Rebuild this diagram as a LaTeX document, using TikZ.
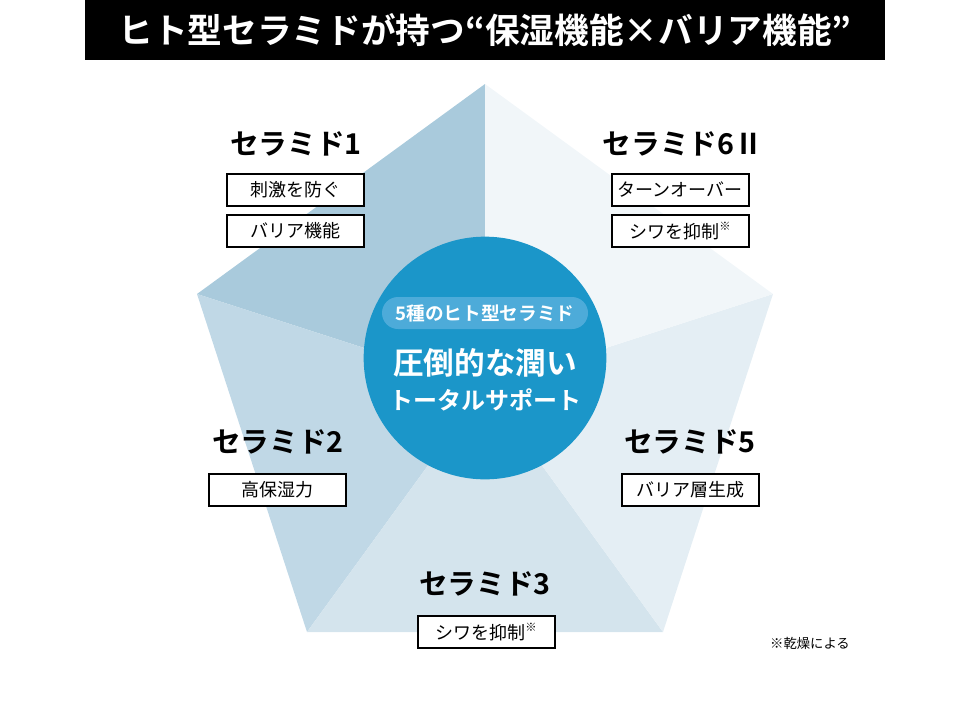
\documentclass[tikz,border=0pt]{standalone}
\usepackage{fontspec}
\setmainfont{Noto Sans CJK JP}[BoldFont={Noto Sans CJK JP Bold}]
\usetikzlibrary{positioning}
\definecolor{segA}{HTML}{A9CADC}
\definecolor{segB}{HTML}{C0D8E6}
\definecolor{segC}{HTML}{D4E4ED}
\definecolor{segD}{HTML}{E4EEF4}
\definecolor{segE}{HTML}{F1F6F9}
\definecolor{discblue}{HTML}{1B96C9}
\definecolor{pillblue}{HTML}{4DABD9}
\tikzset{
    titlebar/.style = {rectangle,
                    fill=black,
                    text=white,
                    minimum width=600pt,
                    minimum height=45pt,
                    inner sep=0pt,
                    font=\fontsize{26pt}{26pt}\selectfont\bfseries},
    heading/.style = {inner sep=0pt,
                    text=black,
                    font=\fontsize{21.5pt}{21.5pt}\selectfont\bfseries},
    effect/.style = {rectangle,
                    fill=white,
                    draw=black,
                    text=black,
                    line width=1.5pt,
                    minimum width=102.75pt,
                    minimum height=24pt,
                    inner sep=0pt,
                    font=\fontsize{13.5pt}{13.5pt}\selectfont},
    disc/.style =   {circle,
                    fill=discblue,
                    minimum size=182pt,
                    inner sep=0pt},
    pill/.style =   {rectangle,
                    rounded corners=12pt,
                    fill=pillblue,
                    text=white,
                    minimum width=154.5pt,
                    minimum height=24pt,
                    inner sep=0pt,
                    font=\fontsize{14pt}{14pt}\selectfont\bfseries},
    lead/.style =   {text=white,
                    inner sep=0pt,
                    font=\fontsize{23pt}{23pt}\selectfont\bfseries},
    leadsub/.style = {text=white,
                    inner sep=0pt,
                    font=\fontsize{18pt}{18pt}\selectfont\bfseries},
    note/.style =   {inner sep=0pt,
                    text=black,
                    font=\fontsize{10pt}{10pt}\selectfont},
    node distance=5.25pt}
\newcommand{\kome}{\raisebox{0.45em}{\fontsize{8.5pt}{8.5pt}\selectfont ※}}

\begin{document}
\begin{tikzpicture}[x=0.75pt,y=-0.75pt]
    \useasboundingbox (0,0) rectangle (970,700);
    % pentagon
    \coordinate (O) at (485,387);
    \coordinate (P1) at (485,84);
    \coordinate (P2) at (197,294);
    \coordinate (P3) at (307,632);
    \coordinate (P4) at (663,632);
    \coordinate (P5) at (773,294);
    \fill[segA] (O) -- (P1) -- (P2) -- cycle;
    \fill[segB] (O) -- (P2) -- (P3) -- cycle;
    \fill[segC] (O) -- (P3) -- (P4) -- cycle;
    \fill[segD] (O) -- (P4) -- (P5) -- cycle;
    \fill[segE] (O) -- (P5) -- (P1) -- cycle;
    % title
    \node[titlebar]     (T) at (485,30)     {ヒト型セラミドが持つ“保湿機能×バリア機能”};
    % centre
    \node[disc]         (C) at (485,358)    {};
    \node[pill]         (S) at (485,313)    {5種のヒト型セラミド};
    \node[lead]         (L1) at (485,363)   {圧倒的な潤い};
    \node[leadsub]      (L2) at (485,400)   {トータルサポート};
    % ceramides
    \node[heading]      (H1) at (296,144)   {セラミド1};
    \node[effect]       (E1a) at (295.5,190) {刺激を防ぐ};
    \node[effect]       (E1b) [below=of E1a] {バリア機能};
    \node[heading]      (H6) at (683,144)   {セラミド6Ⅱ};
    \node[effect]       (E6a) at (680,190)  {ターンオーバー};
    \node[effect]       (E6b) [below=of E6a] {シワを抑制\kome};
    \node[heading]      (H2) at (278,442)   {セラミド2};
    \node[effect]       (E2) at (277.5,490) {高保湿力};
    \node[heading]      (H5) at (690,442)   {セラミド5};
    \node[effect]       (E5) at (690,490)   {バリア層生成};
    \node[heading]      (H3) at (485,584)   {セラミド3};
    \node[effect]       (E3) at (486,632)   {シワを抑制\kome};
    \node[note]         (N) at (810,643)    {※乾燥による};
\end{tikzpicture}
\end{document}
